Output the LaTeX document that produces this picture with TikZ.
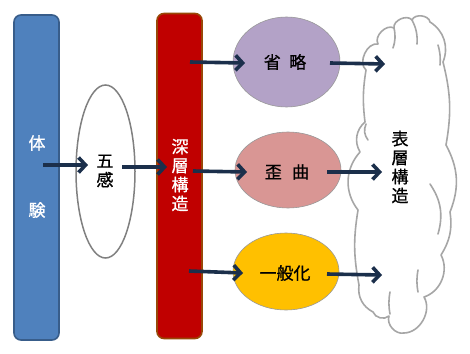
\documentclass[tikz,border=0pt]{standalone}
\usepackage{fontspec}
\newfontfamily\cjk[FakeBold=0.8]{Noto Sans CJK JP}
\usetikzlibrary{arrows.meta,shapes.geometric}
\definecolor{barblue}{HTML}{4F81BD}
\definecolor{barblueline}{HTML}{385D8A}
\definecolor{barred}{HTML}{C00000}
\definecolor{barredline}{HTML}{984807}
\definecolor{navy}{HTML}{1B2F4B}
\definecolor{lav}{HTML}{B3A2C7}
\definecolor{rose}{HTML}{D99694}
\definecolor{gold}{HTML}{FFC000}
\definecolor{cloudgray}{HTML}{A6A6A6}
\tikzset{
  bar/.style={rectangle, rounded corners=7pt, line width=1.6pt, minimum width=45pt, minimum height=325pt, inner sep=0pt},
  lbl/.style={font=\cjk\fontsize{17}{19}\selectfont, inner sep=0pt, align=center},
  flow/.style={draw=navy, line width=3.6pt, -{Straight Barb[length=7pt,width=15pt]}},
  oval/.style={ellipse, draw=gray!80, line width=0.6pt, inner sep=0pt},
  cloudline/.style={draw=cloudgray, line width=1.6pt, line cap=round, line join=round}
}
\begin{document}
\begin{tikzpicture}[x=1pt,y=-1pt]
\useasboundingbox (0,0) rectangle (470,353);
% bars
\node[bar, fill=barblue, draw=barblueline] (taiken) at (36.5,177.5) {};
\node[lbl, text=white] (tai) at (37,143) {体};
\node[lbl, text=white] (ken) at (37,210) {験};
\node[bar, fill=barred, draw=barredline] (shinso) at (179.5,176) {};
\node[lbl, text=white] (shinsotxt) at (180,175) {深\\層\\構\\造};
% five senses
\node[ellipse, draw=gray, line width=1.5pt, fill=white, minimum width=59pt, minimum height=173pt, inner sep=0pt] (goka) at (105.5,171.5) {};
\node[lbl] (gokatxt) at (105,171) {五\\感};
% right ovals
\node[oval, fill=lav, minimum width=107pt, minimum height=90pt] (shoryaku) at (286.5,62) {};
\node[lbl] (shoryakutxt) at (285,62) {省\hspace{0.5em}略};
\node[oval, fill=rose, minimum width=106pt, minimum height=76pt] (waikyoku) at (288,170) {};
\node[lbl] (waikyokutxt) at (287,172) {歪\hspace{0.6em}曲};
\node[oval, fill=gold, minimum width=106pt, minimum height=77pt] (ippanka) at (286,271.5) {};
\node[lbl] (ippankatxt) at (285,273) {一般化};
% cloud
\draw[cloudline, fill=white] (366,70) to[bend left=75] (378,44) to[bend left=75] (394,28)
  to[bend left=75] (412,20) to[bend left=75] (430,22) to[bend left=40] (443,62)
  to[bend left=12] (446,145) to[bend left=25] (450,212) to[bend left=20] (441,255)
  to[bend left=50] (424,297) to[bend left=60] (404,333) to[bend left=60] (389,316)
  to[bend left=55] (373,312) to[bend left=35] (359,285) to[bend left=10] (358,210)
  to[bend left=40] (360,152) to[bend left=40] (365,122) to[bend left=8] (366,70) -- cycle;
\draw[cloudline] (412,20) to[bend left=15] (417,44);
\draw[cloudline] (394,28) to[bend left=15] (393,48);
\draw[cloudline] (438,45) to[bend left=10] (440,65);
\draw[cloudline] (368,140) to[bend left=30] (366,124);
\draw[cloudline] (430,184) to[bend left=25] (438,234);
\draw[cloudline] (390,292) to[bend right=10] (390,314);
\draw[cloudline] (418,270) to[bend right=10] (418,292);
\node[lbl] (hyoso) at (400,167) {表\\層\\構\\造};
% connector ends
\coordinate (a1s) at (43,165);   \coordinate (a1e) at (88,165);
\coordinate (a2s) at (122,167);  \coordinate (a2e) at (167,167);
\coordinate (a3s) at (190,62);   \coordinate (a3e) at (245,63);
\coordinate (a4s) at (193,171);  \coordinate (a4e) at (247,172);
\coordinate (a5s) at (189,271);  \coordinate (a5e) at (243,273);
\coordinate (a6s) at (330,63);   \coordinate (a6e) at (385,64);
\coordinate (a7s) at (327,172);  \coordinate (a7e) at (382,172);
\coordinate (a8s) at (327,274);  \coordinate (a8e) at (382,275);
\foreach \i in {1,...,8} {\draw[flow] (a\i s) -- (a\i e);}
\end{tikzpicture}
\end{document}
